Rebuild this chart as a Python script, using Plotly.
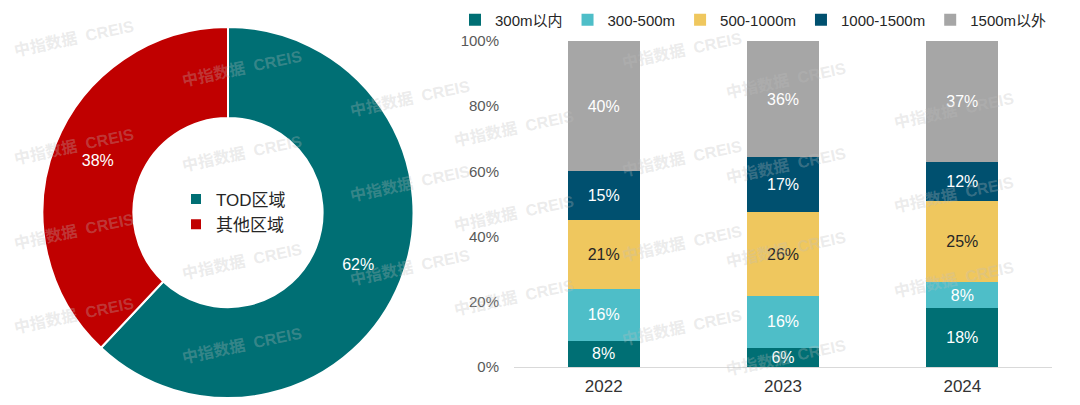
import plotly.graph_objects as go

# donut data
area_labels = ["TOD区域", "其他区域"]
area_values = [62, 38]
area_colors = ["#006F74", "#C00000"]

# stacked bar data (share of each distance band, %)
years = ["2022", "2023", "2024"]
band_names = ["300m以内", "300-500m", "500-1000m", "1000-1500m", "1500m以外"]
band_values = [
    [8, 6, 18],
    [16, 16, 8],
    [21, 26, 25],
    [15, 17, 12],
    [40, 36, 37],
]
band_colors = ["#006F74", "#4EBEC8", "#EFC75E", "#00506F", "#A6A6A6"]
band_text_colors = ["#FFFFFF", "#FFFFFF", "#262626", "#FFFFFF", "#FFFFFF"]
y_ticks = [0, 20, 40, 60, 80, 100]

FONT = "Liberation Sans, Arial, Noto Sans CJK SC, sans-serif"
W, H = 1080, 405

fig = go.Figure()

fig.add_trace(go.Pie(
    labels=area_labels,
    values=area_values,
    hole=0.51,
    sort=False,
    direction="clockwise",
    rotation=0,
    marker=dict(colors=area_colors, line=dict(color="white", width=2)),
    textinfo="percent",
    textposition="inside",
    insidetextorientation="horizontal",
    textfont=dict(size=16, color="white", family=FONT),
    domain=dict(x=[42 / W, 414 / W], y=[7 / H, 378 / H]),
    legend="legend2",
))

for name, vals, col, tcol in zip(band_names, band_values, band_colors, band_text_colors):
    fig.add_trace(go.Bar(
        name=name,
        x=years,
        y=vals,
        marker=dict(color=col, line=dict(width=0)),
        text=[f"{v}%" for v in vals],
        textposition="inside",
        insidetextanchor="middle",
        constraintext="none",
        textfont=dict(size=16, color=tcol, family=FONT),
        textangle=0,
    ))

fig.update_layout(
    width=W,
    height=H,
    margin=dict(l=0, r=0, t=0, b=0, autoexpand=False),
    paper_bgcolor="white",
    plot_bgcolor="white",
    barmode="stack",
    barnorm="percent",
    bargap=0.6,
    font=dict(family=FONT, size=14, color="#333333"),
    xaxis=dict(
        domain=[514 / W, 1052 / W],
        showline=True,
        linecolor="#D9D9D9",
        linewidth=1,
        ticks="",
        ticklabelstandoff=4,
        tickfont=dict(size=17, color="#333333"),
        showgrid=False,
    ),
    yaxis=dict(
        domain=[38 / H, 364 / H],
        range=[0, 100],
        tickmode="array",
        tickvals=y_ticks,
        ticktext=[f"{t}%" for t in y_ticks],
        showgrid=False,
        zeroline=False,
        ticks="",
        ticklabelstandoff=14,
        tickfont=dict(size=15, color="#595959"),
    ),
    legend=dict(
        orientation="h",
        x=455 / W,
        xanchor="left",
        y=1 - 20 / H,
        yanchor="middle",
        font=dict(size=15, color="#262626"),
        bgcolor="rgba(0,0,0,0)",
        traceorder="normal",
        itemwidth=30,
    ),
    legend2=dict(
        x=176 / W,
        xanchor="left",
        y=1 - 212 / H,
        yanchor="middle",
        font=dict(size=17, color="#262626"),
        bgcolor="rgba(0,0,0,0)",
        itemwidth=30,
    ),
)

# faint watermark
for k in range(7):
    for j in range(-1, 4):
        cx = 10 + 168 * k
        cy = (15 + 30 * k) % 108 + 108 * j
        if cy < 8 or cy > 390:
            continue
        fig.add_annotation(
            x=cx / W, y=1 - cy / H, xref="paper", yref="paper",
            text="<b>中指数据  CREIS</b>", showarrow=False, textangle=-12,
            font=dict(size=16, color="rgba(190,190,190,0.3)", family=FONT),
        )

fig.write_html(
    "out.html",
    config={"displayModeBar": False},
    post_script="document.body.style.margin = '0';",
)
